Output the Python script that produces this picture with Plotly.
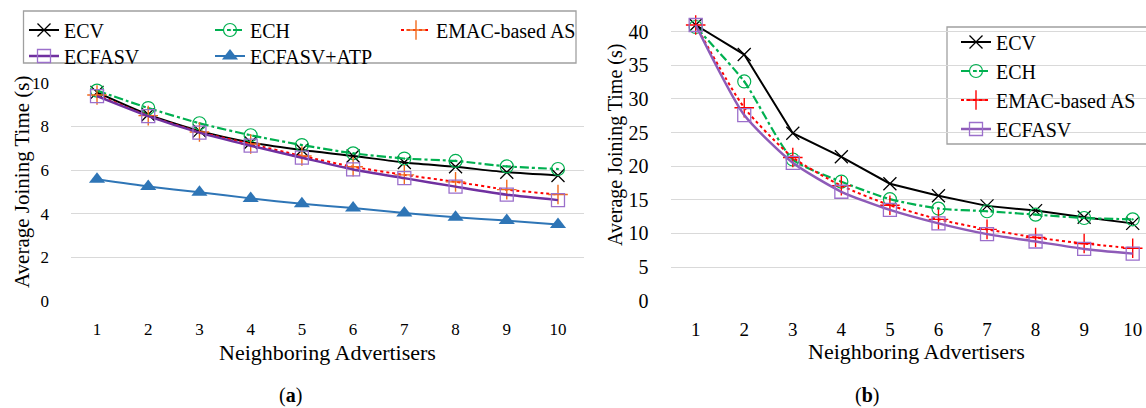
import plotly.graph_objects as go

W, H = 1146, 408

x_vals = list(range(1, 11))
x_ticks = [str(v) for v in x_vals]

# Panel (a): Average Joining Time (s)
a_ecv = [9.57, 8.55, 7.8, 7.27, 6.92, 6.65, 6.35, 6.15, 5.9, 5.75]
a_ech = [9.65, 8.85, 8.15, 7.6, 7.15, 6.77, 6.53, 6.42, 6.17, 6.05]
a_emac = [9.45, 8.5, 7.75, 7.2, 6.65, 6.15, 5.78, 5.46, 5.1, 4.88]
a_ecfasv = [9.4, 8.48, 7.72, 7.12, 6.57, 6.03, 5.63, 5.24, 4.87, 4.62]
a_atp = [5.58, 5.25, 4.98, 4.7, 4.45, 4.26, 4.03, 3.83, 3.68, 3.5]

# Panel (b): Average Joining Time (s)
b_ecv = [41.0, 36.6, 24.9, 21.4, 17.4, 15.6, 14.1, 13.4, 12.4, 11.5]
b_ech = [40.7, 32.6, 21.0, 17.7, 15.1, 13.7, 13.3, 12.8, 12.3, 12.1]
b_emac = [41.0, 28.7, 21.3, 17.1, 14.2, 12.1, 10.6, 9.4, 8.5, 7.8]
b_ecfasv = [41.0, 27.6, 20.5, 16.2, 13.5, 11.5, 9.9, 8.8, 7.7, 7.0]

names = ["ECV", "ECH", "EMAC-based AS", "ECFASV", "ECFASV+ATP"]

FONT = '"Liberation Serif", "Times New Roman", Tinos, "DejaVu Serif", serif'
GRID = "#d9d9d9"


def px(v):
    return v / W


def py(v):
    return (H - v) / H


fig = go.Figure()


def add(xa, ya, y, name, legend, line, marker, shape="spline"):
    fig.add_trace(go.Scatter(
        x=x_vals, y=y, name=name, mode="lines+markers",
        xaxis=xa, yaxis=ya, legend=legend,
        line=dict(shape=shape, smoothing=0.6, **line),
        marker=marker, hoverinfo="skip",
    ))


# panel (a)
add("x", "y", a_ecv, names[0], "legend",
    dict(color="black", width=2),
    dict(symbol="x-thin", size=13, color="black", line=dict(color="black", width=1.3)))
add("x", "y", a_ech, names[1], "legend",
    dict(color="#00b050", width=2.2, dash="dashdot"),
    dict(symbol="circle-open-dot", size=13, color="#00b050", line=dict(color="#00b050", width=1.2)))
add("x", "y", a_emac, names[2], "legend",
    dict(color="#ff0000", width=2, dash="dot"),
    dict(symbol="cross-thin", size=14, color="#f26a1b", line=dict(color="#f26a1b", width=1.4)))
add("x", "y", a_ecfasv, names[3], "legend2",
    dict(color="#7030a0", width=2.5),
    dict(symbol="square-open", size=13, color="#9b6fcb", line=dict(color="#9b6fcb", width=1.3)))
add("x", "y", a_atp, names[4], "legend2",
    dict(color="#2e75b6", width=2),
    dict(symbol="triangle-up", size=14, color="#2e75b6"))

# panel (b)
add("x2", "y2", b_ecv, names[0], "legend3",
    dict(color="black", width=2),
    dict(symbol="x-thin", size=13, color="black", line=dict(color="black", width=1.3)), shape="linear")
add("x2", "y2", b_ech, names[1], "legend3",
    dict(color="#00b050", width=2.2, dash="dashdot"),
    dict(symbol="circle-open-dot", size=13, color="#00b050", line=dict(color="#00b050", width=1.2)))
add("x2", "y2", b_emac, names[2], "legend3",
    dict(color="#ff0000", width=2, dash="dot"),
    dict(symbol="cross-thin", size=14, color="#ff0000", line=dict(color="#ff0000", width=1.4)))
add("x2", "y2", b_ecfasv, names[3], "legend3",
    dict(color="#8e5bb8", width=2.5),
    dict(symbol="square-open", size=13, color="#9b6fcb", line=dict(color="#9b6fcb", width=1.3)))

axis_common = dict(showline=False, zeroline=False, ticks="outside", tickcolor="rgba(0,0,0,0)")

fig.update_layout(
    width=W, height=H, autosize=False,
    margin=dict(l=0, r=0, t=0, b=0, autoexpand=False),
    paper_bgcolor="white", plot_bgcolor="white",
    font=dict(family=FONT, color="black", size=20),
    xaxis=dict(domain=[px(71.4), px(583.6)], range=[0.5, 10.5], tickmode="array",
               tickvals=x_vals, ticktext=x_ticks, showgrid=False, ticklen=13,
               tickfont=dict(size=17), anchor="y", **axis_common),
    yaxis=dict(domain=[py(300.7), py(83)], range=[0, 10], dtick=2, showgrid=True,
               gridcolor=GRID, gridwidth=1.3, ticklen=18, tickfont=dict(size=17),
               anchor="x", **axis_common),
    xaxis2=dict(domain=[px(671.4), 1.0], range=[0.5, 10.274], tickmode="array",
                tickvals=x_vals, ticktext=x_ticks, showgrid=False, ticklen=11,
                tickfont=dict(size=19), anchor="y2", **axis_common),
    yaxis2=dict(domain=[py(300.7), py(14.9)], range=[0, 42.5], dtick=5, showgrid=True,
                gridcolor=GRID, gridwidth=1.3, ticklen=18, tickfont=dict(size=20),
                anchor="x2", **axis_common),
    legend=dict(orientation="h", x=px(24), xanchor="left", y=py(30), yanchor="middle",
                bgcolor="rgba(0,0,0,0)", borderwidth=0, entrywidth=141,
                entrywidthmode="pixels", font=dict(size=20), traceorder="normal"),
    legend2=dict(orientation="h", x=px(24), xanchor="left", y=py(56), yanchor="middle",
                 bgcolor="rgba(0,0,0,0)", borderwidth=0, entrywidth=141,
                 entrywidthmode="pixels", font=dict(size=20), traceorder="normal"),
    legend3=dict(orientation="v", x=px(956), xanchor="left", y=py(85.5), yanchor="middle",
                 bgcolor="rgba(0,0,0,0)", borderwidth=0, font=dict(size=20),
                 traceorder="normal"),
    showlegend=True,
)

# legend frames
fig.add_shape(type="rect", xref="paper", yref="paper", x0=px(23.5), x1=px(576),
              y0=py(63), y1=py(11), line=dict(color="#a0a0a0", width=1.3), fillcolor="rgba(0,0,0,0)")
fig.add_shape(type="rect", xref="paper", yref="paper", x0=px(947), x1=px(1150),
              y0=py(144), y1=py(27), line=dict(color="#a0a0a0", width=1.3), fillcolor="white",
              layer="below")

ann = [
    dict(text="Average Joining Time (s)", x=px(22), y=py(182), textangle=-90, size=21),
    dict(text="Neighboring Advertisers", x=px(327.5), y=py(352), textangle=0, size=22),
    dict(text="Average Joining Time (s)", x=px(616), y=py(145), textangle=-90, size=20),
    dict(text="Neighboring Advertisers", x=px(916), y=py(351), textangle=0, size=22),
    dict(text="(<b>a</b>)", x=px(290), y=py(395), textangle=0, size=20),
    dict(text="(<b>b</b>)", x=px(867), y=py(395), textangle=0, size=20),
]
for a in ann:
    fig.add_annotation(text=a["text"], x=a["x"], y=a["y"], xref="paper", yref="paper",
                       xanchor="center", yanchor="middle", textangle=a["textangle"],
                       showarrow=False, font=dict(family=FONT, size=a["size"], color="black"))

fig.write_html("out.html")
